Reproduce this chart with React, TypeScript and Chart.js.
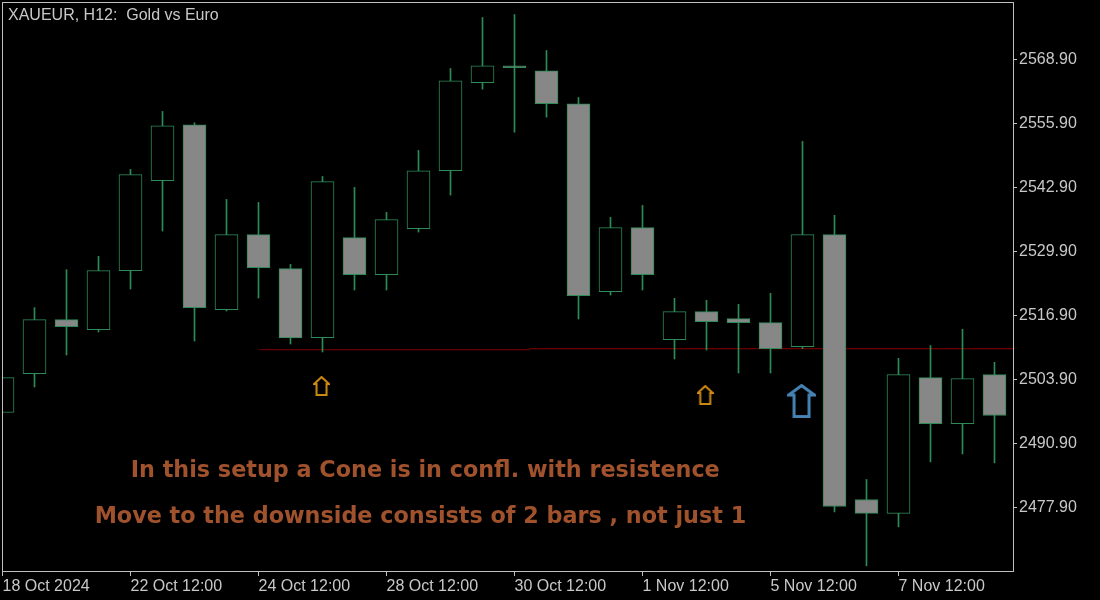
import { useEffect, useRef } from 'react';
import { Chart, registerables } from 'chart.js';

Chart.register(...registerables);

const TITLE = 'XAUEUR, H12:  Gold vs Euro';

const DATES = [
  '18 Oct 2024', '21 Oct 00:00', '21 Oct 12:00', '22 Oct 00:00', '22 Oct 12:00', '23 Oct 00:00',
  '23 Oct 12:00', '24 Oct 00:00', '24 Oct 12:00', '25 Oct 00:00', '25 Oct 12:00', '28 Oct 00:00',
  '28 Oct 12:00', '29 Oct 00:00', '29 Oct 12:00', '30 Oct 00:00', '30 Oct 12:00', '31 Oct 00:00',
  '31 Oct 12:00', '1 Nov 00:00', '1 Nov 12:00', '4 Nov 00:00', '4 Nov 12:00', '5 Nov 00:00',
  '5 Nov 12:00', '6 Nov 00:00', '6 Nov 12:00', '7 Nov 00:00', '7 Nov 12:00', '8 Nov 00:00',
  '8 Nov 12:00', '11 Nov 00:00',
];

const OPEN = [
  2497.19, 2505.10, 2516.06, 2514.03, 2526.01, 2544.28, 2555.65, 2518.09, 2533.32, 2526.42,
  2512.41, 2532.71, 2525.20, 2534.54, 2546.31, 2564.17, 2567.62, 2566.61, 2559.91, 2521.75,
  2534.74, 2512.00, 2517.69, 2516.27, 2515.46, 2510.58, 2533.32, 2479.53, 2476.69, 2504.29,
  2494.95, 2504.90,
];
const HIGH = [
  2504.29, 2518.50, 2526.21, 2528.91, 2546.57, 2558.35, 2556.05, 2540.48, 2539.87, 2527.29,
  2545.15, 2542.92, 2537.84, 2550.43, 2567.07, 2577.43, 2578.03, 2570.73, 2561.19, 2536.83,
  2539.26, 2520.39, 2519.98, 2519.17, 2521.40, 2552.26, 2537.24, 2483.59, 2508.21, 2510.79,
  2514.10, 2507.40,
];
const LOW = [
  2497.19, 2502.38, 2508.88, 2513.55, 2522.28, 2534.05, 2511.72, 2517.81, 2520.45, 2511.11,
  2509.49, 2522.07, 2522.07, 2533.85, 2541.36, 2562.87, 2554.14, 2557.19, 2516.19, 2521.06,
  2522.07, 2508.07, 2509.89, 2505.23, 2505.23, 2510.18, 2477.01, 2466.05, 2473.97, 2487.16,
  2488.78, 2486.96,
];
const CLOSE = [
  2504.29, 2516.06, 2514.64, 2526.01, 2545.50, 2555.44, 2518.50, 2533.32, 2526.62, 2512.33,
  2544.08, 2525.20, 2536.36, 2546.31, 2564.58, 2567.62, 2567.22, 2559.91, 2520.94, 2534.74,
  2525.20, 2517.69, 2515.66, 2515.46, 2510.18, 2533.32, 2478.11, 2476.69, 2504.90, 2494.95,
  2504.09, 2496.58,
];

const Y_TICKS = [2477.9, 2490.9, 2503.9, 2516.9, 2529.9, 2542.9, 2555.9, 2568.9];
const X_TICKS = [0, 4, 8, 12, 16, 20, 24, 28];

// resistance lines (bar index, price)
const RES1_X = [8.02, 16.48];
const RES1_Y = [2509.95, 2509.95];
const RES2_X = [16.48, 31.6];
const RES2_Y = [2510.15, 2510.15];

// arrow markers (bar index, price of arrow centre)
const SMALL_ARROW_X = [9.97, 21.96];
const SMALL_ARROW_Y = [2502.57, 2500.74];
const BIG_ARROW_X = [24.97];
const BIG_ARROW_Y = [2499.52];

// text notes (bar index of centre, price of baseline)
const NOTE_TEXT = [
  'In this setup a Cone is in confl. with resistence',
  'Move to the downside consists of 2 bars , not just 1',
];
const NOTE_X = [13.21, 13.06];
const NOTE_Y = [2484.12, 2474.78];

const GREEN = '#2e8b57';
const BEAR_FILL = '#878787';
const AXIS_COLOR = '#c0c0c0';
const TEXT_COLOR = '#c8c8c8';
const FONT = '"Liberation Sans", Arial, sans-serif';

function makeArrow(w: number, h: number, headH: number, shaftW: number, color: string, lw: number) {
  const c = document.createElement('canvas');
  c.width = w;
  c.height = h;
  const ctx = c.getContext('2d')!;
  const m = lw / 2;
  ctx.beginPath();
  ctx.moveTo(w / 2, m);
  ctx.lineTo(w - m, headH);
  ctx.lineTo(w / 2 + shaftW / 2, headH);
  ctx.lineTo(w / 2 + shaftW / 2, h - m);
  ctx.lineTo(w / 2 - shaftW / 2, h - m);
  ctx.lineTo(w / 2 - shaftW / 2, headH);
  ctx.lineTo(m, headH);
  ctx.closePath();
  ctx.strokeStyle = color;
  ctx.lineWidth = lw;
  ctx.lineJoin = 'miter';
  ctx.stroke();
  return c;
}

const overlayPlugin = {
  id: 'overlay',
  beforeDraw(chart: any) {
    const ctx = chart.ctx;
    ctx.save();
    ctx.fillStyle = '#000';
    ctx.fillRect(0, 0, chart.width, chart.height);
    ctx.restore();
  },
  afterDraw(chart: any) {
    const ctx = chart.ctx;
    const ca = chart.chartArea;
    const xs = chart.scales.x;
    const ys = chart.scales.y;
    ctx.save();
    ctx.strokeStyle = AXIS_COLOR;
    ctx.lineWidth = 1;
    ctx.strokeRect(ca.left + 0.5, ca.top + 0.5, ca.right - ca.left, ca.bottom - ca.top);
    ctx.fillStyle = TEXT_COLOR;
    ctx.font = '16px ' + FONT;
    ctx.textAlign = 'left';
    ctx.textBaseline = 'alphabetic';
    ctx.fillText(TITLE, ca.left + 6, ca.top + 18);
    ctx.fillStyle = '#a0522d';
    ctx.font = 'bold 22.3px "DejaVu Sans", sans-serif';
    ctx.textAlign = 'center';
    NOTE_TEXT.forEach((t, i) => {
      ctx.fillText(t, xs.getPixelForValue(NOTE_X[i]), ys.getPixelForValue(NOTE_Y[i]));
    });
    ctx.restore();
  },
};

export default function App() {
  const ref = useRef<HTMLCanvasElement>(null);
  useEffect(() => {
    document.body.style.margin = '0';
    document.body.style.background = '#000';
    const idx = DATES.map((_, i) => i);
    const smallArrow = makeArrow(17, 20, 8, 10, '#cf8c12', 2);
    const bigArrow = makeArrow(29, 34, 11, 15, '#4682b4', 3);
    const chart = new Chart(ref.current!, {
      type: 'bar',
      data: {
        datasets: [
          {
            type: 'scatter',
            data: SMALL_ARROW_X.map((x, i) => ({ x, y: SMALL_ARROW_Y[i] })),
            pointStyle: smallArrow,
            pointRadius: 10,
            order: 0,
          } as any,
          {
            type: 'scatter',
            data: BIG_ARROW_X.map((x, i) => ({ x, y: BIG_ARROW_Y[i] })),
            pointStyle: bigArrow,
            pointRadius: 16,
            order: 0,
          } as any,
          {
            type: 'bar',
            data: idx.map((k) => ({ x: k, y: [OPEN[k], CLOSE[k]] })),
            backgroundColor: idx.map((k) => (CLOSE[k] >= OPEN[k] ? '#000000' : BEAR_FILL)),
            borderColor: GREEN,
            borderWidth: 1,
            borderSkipped: false,
            barThickness: 23,
            maxBarThickness: 23,
            grouped: false,
            order: 1,
          } as any,
          {
            type: 'bar',
            data: idx.map((k) => ({ x: k, y: [LOW[k], HIGH[k]] })),
            backgroundColor: GREEN,
            borderWidth: 0,
            barThickness: 1,
            maxBarThickness: 1,
            grouped: false,
            order: 2,
          } as any,
          {
            type: 'line',
            data: RES1_X.map((x, i) => ({ x, y: RES1_Y[i] })),
            borderColor: '#800000',
            borderWidth: 1,
            pointRadius: 0,
            order: 3,
          } as any,
          {
            type: 'line',
            data: RES2_X.map((x, i) => ({ x, y: RES2_Y[i] })),
            borderColor: '#8b0000',
            borderWidth: 1,
            pointRadius: 0,
            order: 3,
          } as any,
        ],
      },
      options: {
        responsive: false,
        animation: false,
        events: [],
        layout: { autoPadding: false, padding: { left: 2, top: 2, right: 0, bottom: 0 } },
        plugins: { legend: { display: false }, tooltip: { enabled: false } },
        scales: {
          x: {
            type: 'linear',
            min: -0.015625,
            max: 31.578125,
            offset: false,
            afterBuildTicks: (s: any) => {
              s.ticks = X_TICKS.map((v) => ({ value: v }));
            },
            afterFit: (s: any) => {
              s.height = 29;
              s.paddingLeft = 0;
              s.paddingRight = 0;
              s.paddingTop = 0;
              s.paddingBottom = 0;
            },
            border: { display: false },
            grid: { offset: false, drawOnChartArea: false, drawTicks: true, tickLength: 5, color: AXIS_COLOR },
            ticks: {
              align: 'start',
              autoSkip: false,
              maxRotation: 0,
              padding: 1,
              color: TEXT_COLOR,
              font: { family: FONT, size: 16 },
              callback: (v: any) => DATES[v],
            },
          },
          y: {
            type: 'linear',
            position: 'right',
            min: 2465.0,
            max: 2580.58,
            afterBuildTicks: (s: any) => {
              s.ticks = Y_TICKS.map((v) => ({ value: v }));
            },
            afterFit: (s: any) => {
              s.width = 87;
              s.paddingLeft = 0;
              s.paddingRight = 0;
              s.paddingTop = 0;
              s.paddingBottom = 0;
            },
            border: { display: false },
            grid: { drawOnChartArea: false, drawTicks: true, tickLength: 4, color: AXIS_COLOR },
            ticks: {
              padding: 2,
              color: TEXT_COLOR,
              font: { family: FONT, size: 16 },
              callback: (v: any) => Number(v).toFixed(2),
            },
          },
        },
      } as any,
      plugins: [overlayPlugin],
    });
    return () => chart.destroy();
  }, []);
  return (
    <canvas
      ref={ref}
      width={1100}
      height={600}
      style={{ display: 'block', position: 'absolute', left: 0, top: 0 }}
    />
  );
}
